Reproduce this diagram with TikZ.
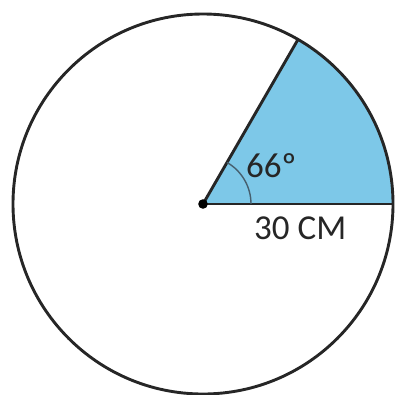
\documentclass[tikz,border=0pt]{standalone}
\usepackage{fontspec}
\setmainfont{Carlito}
\usetikzlibrary{calc}
\definecolor{sectorblue}{RGB}{125,200,232}
\definecolor{arcgray}{RGB}{70,95,110}
\begin{document}
\begin{tikzpicture}[x=1pt,y=-1pt,
  outline/.style={line width=2.9pt,black!85},
  lbl/.style={font=\fontsize{35}{35}\selectfont,text=black!85,inner sep=0pt}]
\useasboundingbox (0,0) rectangle (395,394);
\coordinate (O) at (203,204);
\coordinate (A) at ($(O)+(-60:190)$);
\coordinate (B) at (393,204);
\fill[sectorblue] (O) -- (B) arc[start angle=0,end angle=-60,radius=190] -- cycle;
\draw[outline] (O) circle[radius=190];
\draw[outline] (O) -- (B);
\draw[outline] (O) -- (A);
\draw[arcgray,line width=1.4pt] ($(O)+(48,0)$) arc[start angle=0,end angle=-60,radius=48];
\fill[black] (O) circle[radius=4.8];
\node[lbl,anchor=base west] (ang) at (246,177) {66º};
\node[lbl,anchor=base west] (len) at (254,239) {30 CM};
\end{tikzpicture}
\end{document}
